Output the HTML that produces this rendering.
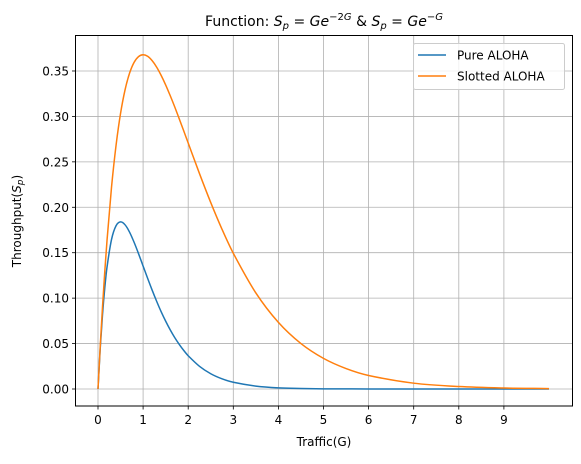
<!DOCTYPE html>
<html><head><meta charset="utf-8"><style>
body{margin:0;background:#fff}
svg{font-family:"DejaVu Sans","Liberation Sans",sans-serif}
</style></head><body>
<svg width="581" height="459" viewBox="0 0 581 459">
<g id="grid"></g>
<g id="lines"></g>
<rect x="75.5" y="35.5" width="497" height="370.5" fill="none" stroke="#000" stroke-width="1"/>
<g id="ticks"></g>
<text x="324" y="26" font-size="14" text-anchor="middle">Function: <tspan font-style="italic">S</tspan><tspan font-size="10" dy="3" font-style="italic">p</tspan><tspan dy="-3"> = </tspan><tspan font-style="italic">Ge</tspan><tspan font-size="10" dy="-6">−2<tspan font-style="italic">G</tspan></tspan><tspan dy="6"> &amp; </tspan><tspan font-style="italic">S</tspan><tspan font-size="10" dy="3" font-style="italic">p</tspan><tspan dy="-3"> = </tspan><tspan font-style="italic">Ge</tspan><tspan font-size="10" dy="-6">−<tspan font-style="italic">G</tspan></tspan></text>
<text x="324" y="446" font-size="12" text-anchor="middle">Traffic(G)</text>
<text transform="translate(21,221) rotate(-90)" font-size="12" text-anchor="middle">Throughput(<tspan font-style="italic">S</tspan><tspan font-size="9" dy="2" font-style="italic">p</tspan><tspan dy="-2">)</tspan></text>
<g>
<rect x="413.5" y="43.5" width="151" height="46" rx="2" fill="#fff" fill-opacity="0.8" stroke="#ccc"/>
<line x1="418" y1="55" x2="446" y2="55" stroke="#1f77b4" stroke-width="1.5"/>
<text x="457" y="59.5" font-size="12">Pure ALOHA</text>
<line x1="418" y1="76" x2="446" y2="76" stroke="#ff7f0e" stroke-width="1.5"/>
<text x="457" y="80.5" font-size="12">Slotted ALOHA</text>
</g>
</svg>
<script>
const gValues=[0,0.05,0.1,0.15,0.2,0.3,0.4,0.5,0.6,0.7,0.8,0.9,1.0,1.1,1.2,1.3,1.4,1.5,1.6,1.7,1.8,1.9,2.0,2.25,2.5,2.75,3,3.5,4,4.5,5,5.5,6,7,8,9,10];
const pureValues=[0,0.0452,0.0819,0.1111,0.1341,0.1646,0.1797,0.1839,0.1807,0.1726,0.1615,0.1488,0.1353,0.1219,0.1089,0.0966,0.0851,0.0747,0.0652,0.0567,0.0492,0.0425,0.0366,0.0250,0.0168,0.0112,0.0074,0.0032,0.0013,0.0006,0.0002,0.0001,0,0,0,0,0];
const slottedValues=[0,0.0476,0.0905,0.1291,0.1637,0.2222,0.2681,0.3033,0.3293,0.3476,0.3595,0.3659,0.3679,0.3662,0.3614,0.3543,0.3452,0.3347,0.3230,0.3106,0.2975,0.2842,0.2707,0.2371,0.2052,0.1758,0.1494,0.1057,0.0733,0.0500,0.0337,0.0225,0.0149,0.0064,0.0027,0.0011,0.00045];
const xTicks=[0,1,2,3,4,5,6,7,8,9];
const yTicks=[0,0.05,0.10,0.15,0.20,0.25,0.30,0.35];
const NS="http://www.w3.org/2000/svg";
const X=v=>98+v*45.1;
const Y=v=>389-v*908.6;
function mk(t,a,p){const e=document.createElementNS(NS,t);for(const k in a)e.setAttribute(k,a[k]);p.appendChild(e);return e;}
const grid=document.getElementById('grid'),ticks=document.getElementById('ticks'),lines=document.getElementById('lines');
xTicks.forEach(v=>{const x=X(v);
 const g=mk('line',{x1:x,y1:35.5,x2:x,y2:406,stroke:'#b0b0b0','stroke-width':0.8},grid);
 
 
 mk('line',{x1:x,y1:406,x2:x,y2:409.5,stroke:'#000','stroke-width':0.8},ticks);
 const t=mk('text',{x:x,y:424,'font-size':12,'text-anchor':'middle'},ticks);t.textContent=v;
 
 
});
yTicks.forEach(v=>{const y=Y(v);
 const g=mk('line',{x1:75.5,y1:y,x2:572.5,y2:y,stroke:'#b0b0b0','stroke-width':0.8},grid);
 
 
 mk('line',{x1:72,y1:y,x2:75.5,y2:y,stroke:'#000','stroke-width':0.8},ticks);
 const t=mk('text',{x:69,y:y+4.5,'font-size':12,'text-anchor':'end'},ticks);t.textContent=v.toFixed(2);
 
 
});
function path(vals){
 const p=gValues.map((g,i)=>[X(g),Y(vals[i])]);
 let d='M'+p[0][0]+','+p[0][1];
 for(let i=0;i<p.length-1;i++){
  const p1=p[i],p2=p[i+1];
  const p0=i>0?p[i-1]:p1,p3=i+2<p.length?p[i+2]:p2;
  const h=p2[0]-p1[0];
  const s1=(p2[1]-p0[1])/((p2[0]-p0[0])||1),s2=(p3[1]-p1[1])/((p3[0]-p1[0])||1);
  const c1=[p1[0]+h/3,p1[1]+s1*h/3],c2=[p2[0]-h/3,p2[1]-s2*h/3];
  d+=' C'+c1+' '+c2+' '+p2;
 }
 return d;
}
const l1=mk('path',{d:path(pureValues),fill:'none',stroke:'#1f77b4','stroke-width':1.5},lines);


const l2=mk('path',{d:path(slottedValues),fill:'none',stroke:'#ff7f0e','stroke-width':1.5},lines);


</script>
</body></html>
